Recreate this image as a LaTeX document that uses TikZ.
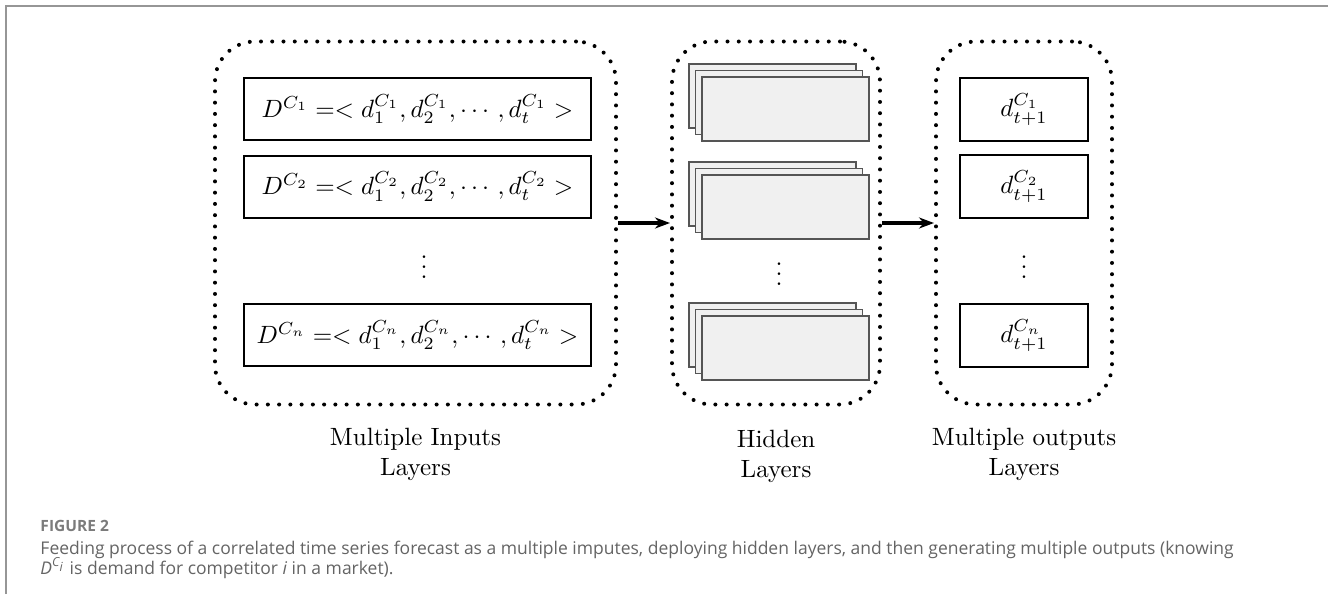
\documentclass[tikz,border=0pt]{standalone}
\usepackage{amsmath}
\usepackage{fontspec}
\newfontfamily\capfont{Open Sans}
\usepackage{tikz}
\usetikzlibrary{arrows.meta}

\definecolor{framegray}{RGB}{150,150,150}
\definecolor{capgray}{RGB}{100,100,100}
\definecolor{layerfill}{RGB}{240,240,240}
\definecolor{layerdraw}{RGB}{85,85,85}

\tikzset{
  groupbox/.style={draw=black, rounded corners=16pt, line width=1.6pt,
    dash pattern=on 0pt off 4.5pt, line cap=round, inner sep=0pt,
    minimum height=145.2pt},
  seriesbox/.style={draw=black, thick, minimum width=138.8pt,
    minimum height=24.8pt, inner sep=0pt},
  outputbox/.style={draw=black, thick, minimum width=51.2pt,
    minimum height=25.2pt, inner sep=0pt},
  layerbox/.style={draw=layerdraw, fill=layerfill, line width=0.6pt,
    minimum width=66.8pt, minimum height=25.6pt, inner sep=0pt},
  feedarrow/.style={-{Stealth[length=6pt,width=4.4pt]}, line width=1.6pt},
  captext/.style={anchor=base west, inner sep=0pt,
    font=\capfont\fontsize{7pt}{8pt}\selectfont, text=capgray},
}

\begin{document}
\begin{tikzpicture}[x=0.4pt,y=-0.4pt]
      \useasboundingbox (0,0) rectangle (1328,594);
      \draw[framegray, line width=0.65pt] (6,594) -- (6,6) -- (1328,6);

      % dotted groups
      \node[groupbox, minimum width=160.4pt](inputs) at (415.5,223) {};
      \node[groupbox, minimum width=83.2pt](hidden) at (776,223) {};
      \node[groupbox, minimum width=70.4pt](outputs) at (1024,223) {};

      % input series
      \node[seriesbox](D1) at (417.5,109) {$D^{C_1} =< d_1^{C_1}, d_2^{C_1}, \cdots, d_t^{C_1} >$};
      \node[seriesbox](D2) at (417.5,186.5) {$D^{C_2} =< d_1^{C_2}, d_2^{C_2}, \cdots, d_t^{C_2} >$};
      \node[seriesbox](Dn) at (417.5,335) {$D^{C_n} =< d_1^{C_n}, d_2^{C_n}, \cdots, d_t^{C_n} >$};
      \node(Ddots) at (424,260) {$\vdots$};

      % hidden layers
      \node[layerbox](H1a) at (772.5,96) {};
      \node[layerbox](H1b) at (779,102.5) {};
      \node[layerbox](H1c) at (785.5,109) {};
      \node[layerbox](H2a) at (772.5,194) {};
      \node[layerbox](H2b) at (779,200.5) {};
      \node[layerbox](H2c) at (785.5,207) {};
      \node[layerbox](Hna) at (772.5,335) {};
      \node[layerbox](Hnb) at (779,341.5) {};
      \node[layerbox](Hnc) at (785.5,348) {};
      \node(Hdots) at (779,267) {$\vdots$};

      % outputs
      \node[outputbox](O1) at (1024,109.5) {$d_{t+1}^{C_1}$};
      \node[outputbox](O2) at (1024,186.5) {$d_{t+1}^{C_2}$};
      \node[outputbox](On) at (1024,335.5) {$d_{t+1}^{C_n}$};
      \node(Odots) at (1024,260) {$\vdots$};

      \path [feedarrow] (inputs) edge (hidden);
      \path [feedarrow] (hidden) edge (outputs);

      % group labels
      \node[align=center](inlabel) at (415.5,454) {Multiple Inputs\\Layers};
      \node[align=center](hidlabel) at (776,456) {Hidden\\Layers};
      \node[align=center](outlabel) at (1024,454) {Multiple outputs\\Layers};

      % caption
      \node[captext, font=\capfont\bfseries\fontsize{6.2pt}{7pt}\selectfont, text=capgray!85](figno) at (40,531) {FIGURE 2};
      \node[captext](cap1) at (40,554) {Feeding process of a correlated time series forecast as a multiple imputes, deploying hidden layers, and then generating multiple outputs (knowing};
      \node[captext](cap2) at (40,574) {\textit{D}\textsuperscript{\textit{C\textsubscript{i}}} is demand for competitor \textit{i} in a market).};
\end{tikzpicture}
\end{document}
